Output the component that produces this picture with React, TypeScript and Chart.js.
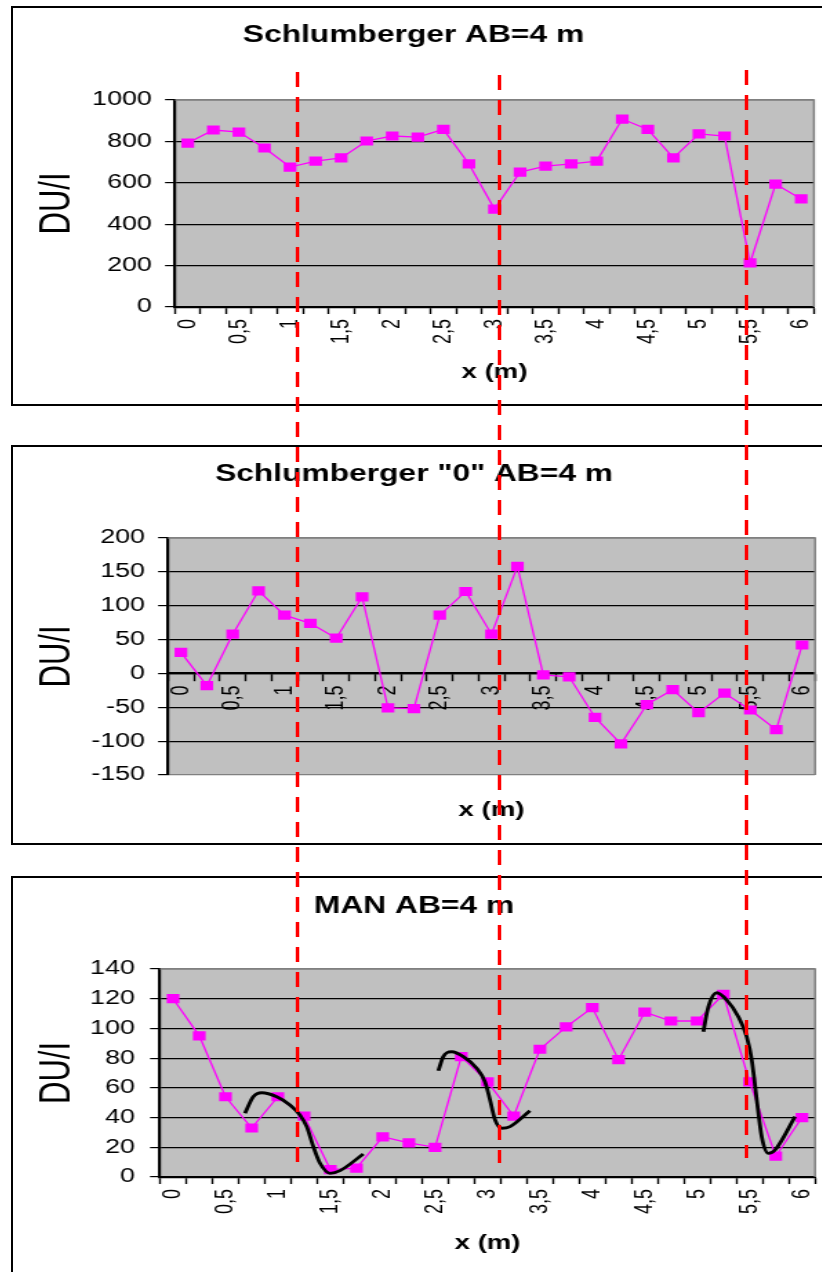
import React, { useEffect, useRef } from 'react';
import { Chart, registerables } from 'chart.js';

Chart.register(...registerables);

const FONT = '"Liberation Sans", Arial, Helvetica, sans-serif';
Chart.defaults.font.family = FONT;
Chart.defaults.color = '#000';

// ---------- data ----------
const xPositions = [0, 0.25, 0.5, 0.75, 1, 1.25, 1.5, 1.75, 2, 2.25, 2.5, 2.75, 3, 3.25, 3.5, 3.75, 4, 4.25, 4.5, 4.75, 5, 5.25, 5.5, 5.75, 6];
const xLabelValues = [0, 0.5, 1, 1.5, 2, 2.5, 3, 3.5, 4, 4.5, 5, 5.5, 6];
const xLabels = ['0', '0,5', '1', '1,5', '2', '2,5', '3', '3,5', '4', '4,5', '5', '5,5', '6'];

const schlumberger = [792, 855, 845, 768, 676, 705, 720, 802, 826, 821, 858, 691, 473, 652, 681, 691, 705, 908, 858, 720, 836, 826, 213, 594, 522];
const schlumbergerZero = [31, -18, 58, 122, 86, 74, 52, 113, -51, -52, 86, 121, 58, 158, -2, -5, -65, -104, -46, -24, -58, -29, -54, -83, 42];
const man = [120, 95, 54, 33, 54, 41, 5, 6, 27, 23, 20, 81, 64, 41, 86, 101, 114, 79, 111, 105, 105, 123, 64, 14, 40];

// hand-drawn black curves on the MAN panel
const curve1X = [0.686, 0.765, 0.845, 0.989, 1.115, 1.211, 1.275, 1.338, 1.402, 1.497, 1.593, 1.815];
const curve1Y = [42.9, 54, 56.7, 54, 48.5, 41.7, 33.9, 20.4, 9.2, 2.5, 4.3, 15.5];
const curve2X = [2.531, 2.578, 2.658, 2.769, 2.897, 2.976, 3.024, 3.072, 3.135, 3.215, 3.405];
const curve2Y = [71.5, 81, 84.3, 81, 73.2, 64.1, 51.8, 38.4, 32.8, 33.9, 44.6];
const curve3X = [5.059, 5.107, 5.187, 5.282, 5.393, 5.473, 5.521, 5.569, 5.616, 5.68, 5.743, 5.934];
const curve3Y = [97.8, 114.6, 124, 119.1, 107.9, 94.4, 78.7, 51.8, 27.1, 15.9, 18.2, 40.6];

// red dashed boundary lines (x in metres, on the first panel's axis)
const boundaryX = [1.068, 3.049, 5.461];
const boundaryTop = [72, 75, 70];
const boundaryBottom = [1162, 1163, 1158];

// ---------- layout ----------
const INNER_W = 600; // canvas drawing width
const CSS_W = 828; // stretched display width
const STRETCH = CSS_W / INNER_W;
const CANVAS_LEFT = 13;
const CANVAS_H = 396;
const X_MIN = -0.125;
const X_MAX = 6.125;

const tickValues: number[] = (() => {
  const vals: number[] = xPositions.map((v) => v - 0.125);
  vals.push(xPositions[xPositions.length - 1] + 0.125);
  xLabelValues.forEach((v) => vals.push(v));
  return vals.sort((a, b) => a - b);
})();

const isBoundary = (v: number) => {
  const k = (v - X_MIN) / 0.25;
  return Math.abs(k - Math.round(k)) < 1e-6;
};
const labelFor = (v: number) => {
  const i = xLabelValues.findIndex((l) => Math.abs(l - v) < 1e-6);
  return i >= 0 ? xLabels[i] : '';
};

type Panel = {
  title: string;
  values: number[];
  yMin: number;
  yMax: number;
  yStep: number;
  axisAtZero: boolean;
  boxTop: number;
  chartLeft: number;
  chartRight: number;
  titlePadTop: number;
  titlePadBottom: number;
  xAxisHeight: number;
  xTitlePadBottom: number;
  yTickPadding: number;
  curves: { x: number[]; y: number[] }[];
};

const panels: Panel[] = [
  {
    title: 'Schlumberger AB=4 m', values: schlumberger, yMin: 0, yMax: 1000, yStep: 200, axisAtZero: false,
    boxTop: 6, chartLeft: 117.4, chartRight: 580.4, titlePadTop: 14.2, titlePadBottom: 50.2,
    xAxisHeight: 97, xTitlePadBottom: 20, yTickPadding: 9.5, curves: [],
  },
  {
    title: 'Schlumberger "0" AB=4 m', values: schlumbergerZero, yMin: -150, yMax: 200, yStep: 50, axisAtZero: true,
    boxTop: 445, chartLeft: 112.3, chartRight: 581.2, titlePadTop: 14.2, titlePadBottom: 49.2,
    xAxisHeight: 68, xTitlePadBottom: -80.6, yTickPadding: 9.4, curves: [],
  },
  {
    title: 'MAN AB=4 m', values: man, yMin: 0, yMax: 140, yStep: 20, axisAtZero: false,
    boxTop: 876, chartLeft: 106.5, chartRight: 581.2, titlePadTop: 15.2, titlePadBottom: 48.2,
    xAxisHeight: 97, xTitlePadBottom: 19, yTickPadding: 10.9,
    curves: [
      { x: curve1X, y: curve1Y },
      { x: curve2X, y: curve2Y },
      { x: curve3X, y: curve3Y },
    ],
  },
];

const plotBg = {
  id: 'plotBg',
  beforeDraw(chart: any) {
    const { ctx, chartArea: a } = chart;
    ctx.save();
    ctx.fillStyle = '#C0C0C0';
    ctx.fillRect(a.left, a.top, a.right - a.left, a.bottom - a.top);
    ctx.restore();
  },
  beforeDatasetsDraw(chart: any) {
    const { ctx, chartArea: a } = chart;
    ctx.save();
    ctx.strokeStyle = '#808080';
    ctx.lineWidth = 1.5;
    ctx.beginPath();
    ctx.moveTo(a.left, a.top);
    ctx.lineTo(a.right, a.top);
    ctx.lineTo(a.right, a.bottom);
    ctx.stroke();
    ctx.restore();
  },
};

function buildConfig(p: Panel): any {
  const datasets: any[] = [];
  p.curves.forEach((c) => {
    datasets.push({
      data: c.x.map((x, i) => ({ x, y: c.y[i] })),
      borderColor: '#000',
      borderWidth: 2.8,
      pointRadius: 0,
      cubicInterpolationMode: 'monotone',
      order: 0,
    });
  });
  datasets.push({
    data: xPositions.map((x, i) => ({ x, y: p.values[i] })),
    borderColor: '#FF00FF',
    backgroundColor: '#FF00FF',
    borderWidth: 1.3,
    pointStyle: 'rect',
    pointRadius: 6.5,
    pointBorderWidth: 0,
    pointBackgroundColor: '#FF00FF',
    tension: 0,
    order: 1,
  });

  return {
    type: 'line',
    data: { datasets },
    plugins: [plotBg],
    options: {
      responsive: false,
      animation: false,
      devicePixelRatio: 1,
      events: [],
      layout: {
        padding: {
          left: 0,
          right: INNER_W - p.chartRight,
          top: 0,
          bottom: p.axisAtZero ? p.xAxisHeight : 0,
        },
      },
      plugins: {
        legend: { display: false },
        tooltip: { enabled: false },
        title: {
          display: true,
          text: p.title,
          color: '#000',
          font: { family: FONT, size: 23, weight: 'bold' },
          padding: { top: p.titlePadTop, bottom: p.titlePadBottom },
        },
      },
      scales: {
        x: {
          type: 'linear',
          min: X_MIN,
          max: X_MAX,
          position: p.axisAtZero ? { y: 0 } : 'bottom',
          afterBuildTicks: (axis: any) => {
            axis.ticks = tickValues.map((v) => ({ value: v }));
          },
          afterFit: (scale: any) => {
            scale.height = p.xAxisHeight;
            scale.paddingLeft = 0;
            scale.paddingRight = 0;
          },
          ticks: {
            autoSkip: false,
            minRotation: 90,
            maxRotation: 90,
            padding: 5,
            color: '#000',
            font: { family: FONT, size: 18 },
            callback: (v: number) => labelFor(v),
          },
          grid: {
            drawOnChartArea: false,
            drawTicks: true,
            tickLength: 7,
            tickWidth: 1.4,
            tickColor: (ctx: any) => (ctx.tick && isBoundary(ctx.tick.value) ? '#000' : 'rgba(0,0,0,0)'),
          },
          border: { display: true, color: '#000', width: 2.2 },
          title: {
            display: true,
            text: 'x (m)',
            color: '#000',
            font: { family: FONT, size: 20, weight: 'bold' },
            padding: { top: 0, bottom: p.xTitlePadBottom },
          },
        },
        y: {
          type: 'linear',
          position: 'left',
          min: p.yMin,
          max: p.yMax,
          afterFit: (scale: any) => {
            scale.width = p.chartLeft;
            scale.paddingTop = 0;
            scale.paddingBottom = 0;
          },
          ticks: {
            stepSize: p.yStep,
            autoSkip: false,
            padding: p.yTickPadding,
            color: '#000',
            font: { family: FONT, size: 19.5 },
            callback: (v: number) => String(v),
          },
          grid: {
            color: (ctx: any) =>
              ctx.tick && (ctx.tick.value === p.yMax || (p.axisAtZero && ctx.tick.value === p.yMin)) ? '#808080' : '#000',
            lineWidth: 1.2,
            drawTicks: true,
            tickLength: 7.2,
            tickColor: '#000',
            tickWidth: 1.2,
          },
          border: { display: true, color: '#000', width: 2.2 },
          title: {
            display: true,
            text: 'DU/I',
            color: '#000',
            font: { family: FONT, size: 31 },
            padding: { top: 14, bottom: 0 },
          },
        },
      },
    },
  };
}

export default function App() {
  const r0 = useRef<HTMLCanvasElement>(null);
  const r1 = useRef<HTMLCanvasElement>(null);
  const r2 = useRef<HTMLCanvasElement>(null);
  const overlayRef = useRef<HTMLCanvasElement>(null);

  useEffect(() => {
    const refs = [r0, r1, r2];
    const charts = panels.map((p, i) => new Chart(refs[i].current as HTMLCanvasElement, buildConfig(p)));

    const ov = overlayRef.current as HTMLCanvasElement;
    const ctx = ov.getContext('2d') as CanvasRenderingContext2D;
    ctx.clearRect(0, 0, ov.width, ov.height);
    const xs: any = charts[0].scales.x;
    ctx.save();
    ctx.strokeStyle = '#FF0000';
    ctx.lineWidth = 3.5;
    ctx.setLineDash([15, 10]);
    boundaryX.forEach((v, k) => {
      const px = Math.round(CANVAS_LEFT + xs.getPixelForValue(v) * STRETCH) + 0.5;
      ctx.beginPath();
      ctx.moveTo(px, boundaryTop[k]);
      ctx.lineTo(px, boundaryBottom[k]);
      ctx.stroke();
    });
    ctx.restore();

    return () => {
      charts.forEach((c) => c.destroy());
    };
  }, []);

  const refs = [r0, r1, r2];
  return (
    <div style={{ position: 'absolute', left: 0, top: 0, width: 822, height: 1272, overflow: 'hidden', background: '#fff' }}>
      {panels.map((p, i) => (
        <div
          key={i}
          style={{
            position: 'absolute',
            left: 11,
            top: p.boxTop,
            width: 830,
            height: CANVAS_H,
            border: '2px solid #000',
            background: '#fff',
          }}
        >
          <canvas
            ref={refs[i]}
            width={INNER_W}
            height={CANVAS_H}
            style={{ position: 'absolute', left: 0, top: 0, width: CSS_W, height: CANVAS_H, display: 'block' }}
          />
        </div>
      ))}
      <canvas
        ref={overlayRef}
        width={822}
        height={1272}
        style={{ position: 'absolute', left: 0, top: 0, width: 822, height: 1272, pointerEvents: 'none' }}
      />
    </div>
  );
}
